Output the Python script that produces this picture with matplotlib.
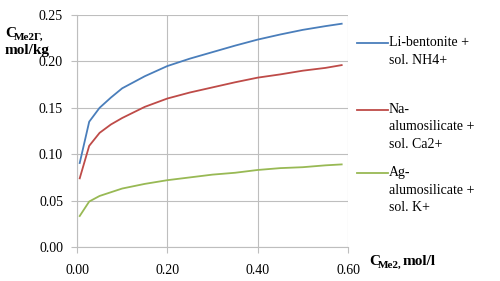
import matplotlib
matplotlib.use("Agg")
import matplotlib.pyplot as plt
from matplotlib.lines import Line2D

x = [0.006, 0.027, 0.05, 0.075, 0.1, 0.15, 0.2, 0.25, 0.3, 0.35, 0.4, 0.45, 0.5, 0.55, 0.586]
li_nh4 = [0.0905, 0.135, 0.150, 0.161, 0.171, 0.184, 0.195, 0.203, 0.210, 0.217, 0.2235, 0.229, 0.234, 0.238, 0.2406]
na_ca = [0.074, 0.109, 0.123, 0.132, 0.139, 0.151, 0.160, 0.1665, 0.172, 0.1775, 0.1825, 0.186, 0.190, 0.193, 0.196]
ag_k = [0.0334, 0.049, 0.055, 0.059, 0.063, 0.068, 0.072, 0.075, 0.078, 0.080, 0.083, 0.085, 0.086, 0.088, 0.089]

labels = ["Li-bentonite +\nsol. NH4+", "Na-\nalumosilicate +\nsol. Ca2+", "Ag-\nalumosilicate +\nsol. K+"]
colors = ["#4A7EBB", "#BE4B48", "#98B954"]
xticks = [0.0, 0.2, 0.4, 0.6]
yticks = [0.0, 0.05, 0.10, 0.15, 0.20, 0.25]

plt.rcParams['font.family'] = ['Liberation Serif', 'DejaVu Serif']

fig = plt.figure(figsize=(5, 2.81), dpi=100)
W, H = 500, 281
ax = fig.add_axes([77 / W, 1 - 247 / H, (348 - 77) / W, (247 - 15) / H])

for ys, c in zip([li_nh4, na_ca, ag_k], colors):
    ax.plot(x, ys, color=c, lw=1.3)

ax.set_xlim(0, 0.6)
ax.set_ylim(0, 0.25)
ax.set_xticks(xticks)
ax.set_yticks(yticks)
ax.set_xticklabels([f"{v:.2f}" for v in xticks], fontsize=10)
ax.set_yticklabels([f"{v:.2f}" for v in yticks], fontsize=10)
ax.grid(True, color="#BEBEBE", lw=0.8)
for s in ["top", "right"]:
    ax.spines[s].set_visible(False)
for s in ["left", "bottom"]:
    ax.spines[s].set_color("#BEBEBE")
ax.tick_params(axis="both", direction="out", length=4, color="#BEBEBE", labelcolor="black")
ax.tick_params(axis="x", pad=8)
ax.tick_params(axis="y", pad=6)
ax.set_axisbelow(True)

# y label
fig.text(5 / W, 1 - 37 / H, "C", fontsize=11, fontweight="bold", va="baseline")
fig.text(14 / W, 1 - 40 / H, "Me2Г,", fontsize=8, fontweight="bold", va="baseline")
fig.text(5 / W, 1 - 54 / H, "mol/kg", fontsize=11, fontweight="bold", va="baseline")

# x label
fig.text(369 / W, 1 - 265 / H, "C", fontsize=11, fontweight="bold", va="baseline")
fig.text(378 / W, 1 - 268 / H, "Me2,", fontsize=8, fontweight="bold", va="baseline")
fig.text(403 / W, 1 - 265 / H, "mol/l", fontsize=11, fontweight="bold", va="baseline")

# legend
leg_y = [43, 110, 173]
for lab, c, yy in zip(labels, colors, leg_y):
    fig.add_artist(Line2D([357 / W, 388 / W], [1 - yy / H, 1 - yy / H], color=c, lw=1.3,
                          transform=fig.transFigure))
    fig.text(389 / W, 1 - (yy - 7) / H, lab, fontsize=10, va="top", ha="left", linespacing=1.45)

fig.savefig("out.png", dpi=100)
